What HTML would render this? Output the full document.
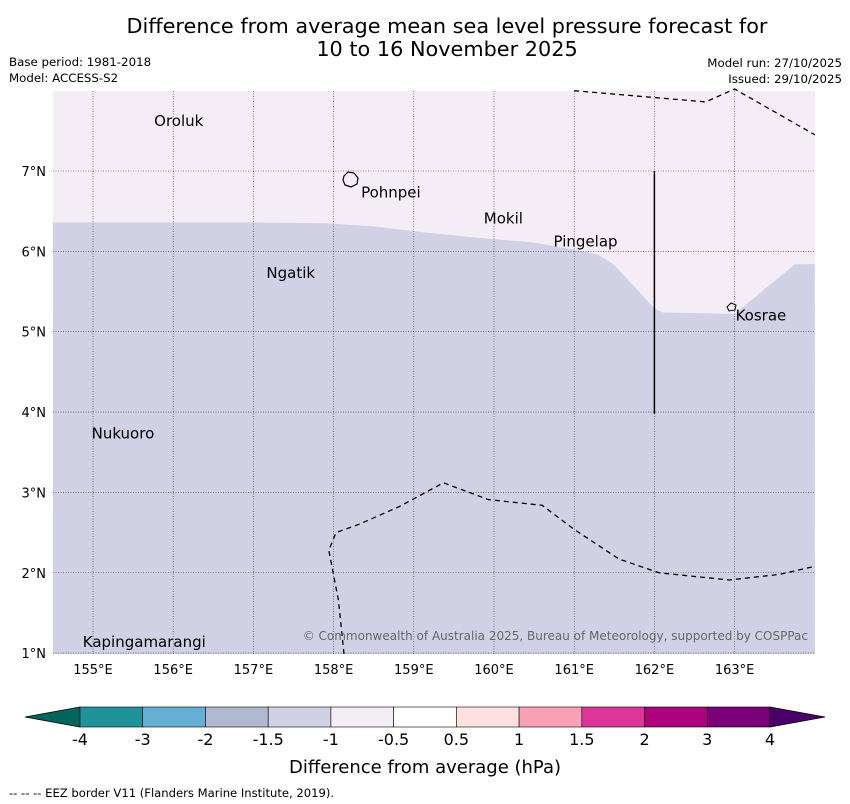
<!DOCTYPE html>
<html><head><meta charset="utf-8"><style>
body{margin:0;background:#fff;font-family:"DejaVu Sans","Liberation Sans",sans-serif;}
#wrap{position:relative;width:850px;height:804px;overflow:hidden}
</style></head><body>
<div id="wrap">
<svg id="svg" width="850" height="804" xmlns="http://www.w3.org/2000/svg" font-family="DejaVu Sans, Liberation Sans, sans-serif">
<text x="447" y="33" font-size="20.8" text-anchor="middle">Difference from average mean sea level pressure forecast for</text>
<text x="447" y="56" font-size="20.8" text-anchor="middle">10 to 16 November 2025</text>
<text x="9" y="66" font-size="11.8">Base period: 1981-2018</text>
<text x="9" y="82" font-size="11.8">Model: ACCESS-S2</text>
<text x="842" y="67" font-size="11.8" text-anchor="end">Model run: 27/10/2025</text>
<text x="842" y="83" font-size="11.8" text-anchor="end">Issued: 29/10/2025</text>
<g id="map"></g>
<g id="cbar"></g>
<text x="425" y="773" font-size="18" text-anchor="middle">Difference from average (hPa)</text>
<text x="9" y="797" font-size="11.6">--  --  -- EEZ border V11 (Flanders Marine Institute, 2019).</text>
</svg>
</div>
<script>
const lonTicks=[155,156,157,158,159,160,161,162,163];
const latTicks=[1,2,3,4,5,6,7];
// boundary between -1..-0.5 (north) and -1.5..-1 (south) zones [lon,lat]
const zoneLon=[154.5,155.7,157,157.9,158.5,159.1,159.8,160.5,161.0,161.3,161.5,162.0,162.1,163.0,163.75,164.0];
const zoneLat=[6.36,6.36,6.36,6.35,6.31,6.24,6.17,6.11,6.02,5.96,5.83,5.29,5.24,5.22,5.84,5.84];
const eezTopLon=[161.0,162.64,163.0,164.0];
const eezTopLat=[8.0,7.86,8.02,7.45];
const eezBotLon=[158.13,158.06,157.94,158.03,158.31,158.81,159.37,159.93,160.6,161.0,161.56,162.06,162.93,163.56,164.0];
const eezBotLat=[0.99,1.66,2.28,2.5,2.6,2.82,3.12,2.91,2.84,2.54,2.17,2.0,1.91,1.98,2.08];
const places=["Oroluk","Pohnpei","Mokil","Pingelap","Ngatik","Kosrae","Nukuoro","Kapingamarangi"];
const placeLon=[155.75,158.33,159.86,160.73,157.15,163.0,154.97,154.86];
const placeLat=[7.62,6.73,6.41,6.12,5.73,5.2,3.73,1.14];
const cbLevels=["-4","-3","-2","-1.5","-1","-0.5","0.5","1","1.5","2","3","4"];
const cbColors=["#1f9399","#66aed3","#b1b9d1","#d1d1e6","#f4edf6","#ffffff","#fde0df","#faa1b8","#dd3699","#ad017e","#7a0177"];
const X0=53,X1=815,Y0=91,Y1=654;
const x=lon=>93+(lon-155)*80.2;
const y=lat=>171+(7-lat)*80.35;
const NS="http://www.w3.org/2000/svg";
function mk(t,a,p){const e=document.createElementNS(NS,t);for(const k in a)e.setAttribute(k,a[k]);p.appendChild(e);return e;}
const map=document.getElementById('map');
const bg=mk('rect',{x:X0,y:Y0,width:X1-X0,height:Y1-Y0,fill:'#f4edf6'},map);


let d='M'+X0+','+Y1;
zoneLon.forEach((l,i)=>{d+=' L'+x(l).toFixed(1)+','+y(zoneLat[i]).toFixed(1);});
d+=' L'+X1+','+Y1+' Z';
const zone=mk('path',{d:d,fill:'#d1d1e6'},map);


lonTicks.forEach(l=>{
 const g=mk('line',{x1:x(l),x2:x(l),y1:Y0,y2:Y1,stroke:'#334',"stroke-width":0.6,"stroke-dasharray":"1,1.5"},map);
 
 
 const t=mk('text',{x:x(l),y:674,"font-size":13,"text-anchor":"middle"},map);t.textContent=l+'°E';
 
 
});
latTicks.forEach(l=>{
 const g=mk('line',{x1:X0,x2:X1,y1:y(l),y2:y(l),stroke:'#334',"stroke-width":0.6,"stroke-dasharray":"1,1.5"},map);
 
 
 const t=mk('text',{x:46,y:y(l)+5,"font-size":13,"text-anchor":"end"},map);t.textContent=l+'°N';
 
 
});
function dash(lons,lats,name){let p='';lons.forEach((l,i)=>{p+=(i?' L':'M')+x(l).toFixed(1)+','+y(lats[i]).toFixed(1);});
 const e=mk('path',{d:p,fill:'none',stroke:'#000',"stroke-width":1.3,"stroke-dasharray":"5,4"},map);
 
 }
dash(eezTopLon,eezTopLat,'eez-border-north');
dash(eezBotLon,eezBotLat,'eez-border-south');
const vl=mk('line',{x1:x(162),x2:x(162),y1:y(7),y2:y(3.98),stroke:'#000',"stroke-width":1.5},map);


const pi=mk('path',{d:'M344,176 l4,-4 l6,1 l4,5 l-1,6 l-6,3 l-6,-2 l-2,-5 z',fill:'none',stroke:'#000',"stroke-width":1.2},map);


const ko=mk('path',{d:'M727,307 l4,-4 l5,2 l-1,5 l-6,1 z',fill:'none',stroke:'#000',"stroke-width":1},map);


places.forEach((n,i)=>{
 const t=mk('text',{x:x(placeLon[i])+1,y:y(placeLat[i])+5,"font-size":15},map);t.textContent=n;
 
 
});
const cr=mk('text',{x:808,y:640,"font-size":12,fill:'#666',"text-anchor":"end"},map);
cr.textContent='© Commonwealth of Australia 2025, Bureau of Meteorology, supported by COSPPac';


const cb=document.getElementById('cbar');
const cbX0=80,cbX1=770,cbY=707,cbH=20,w=(cbX1-cbX0)/cbColors.length;
const la=mk('path',{d:`M${cbX0},${cbY} L25,${cbY+cbH/2} L${cbX0},${cbY+cbH} Z`,fill:'#01665e',stroke:'#000',"stroke-width":0.8},cb);


const ra=mk('path',{d:`M${cbX1},${cbY} L825,${cbY+cbH/2} L${cbX1},${cbY+cbH} Z`,fill:'#49006a',stroke:'#000',"stroke-width":0.8},cb);


cbColors.forEach((c,i)=>{
 const r=mk('rect',{x:cbX0+i*w,y:cbY,width:w,height:cbH,fill:c,stroke:'#000',"stroke-width":0.6},cb);
 
 
});
cbLevels.forEach((s,i)=>{
 const t=mk('text',{x:cbX0+i*w,y:745,"font-size":16,"text-anchor":"middle"},cb);t.textContent=s;
 
 
});
</script>
</body></html>
